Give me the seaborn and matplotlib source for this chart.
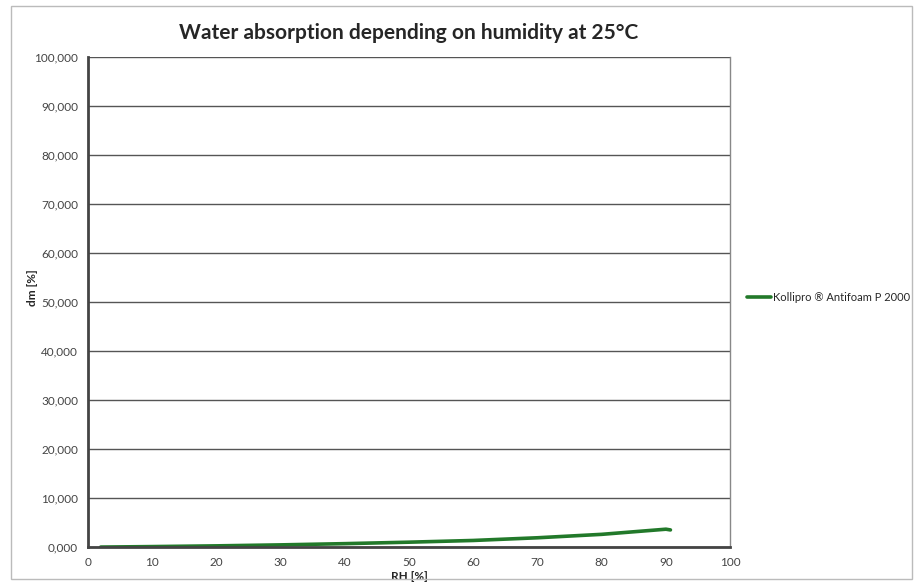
import numpy as np
import pandas as pd
import matplotlib
matplotlib.use("Agg")
import matplotlib.pyplot as plt
import seaborn as sns
from matplotlib.ticker import FuncFormatter

# Dados
rh = [2, 10, 20, 30, 40, 50, 60, 70, 80, 90, 90.7]
dm = [0.0, 0.1, 0.25, 0.45, 0.7, 1.0, 1.35, 1.9, 2.6, 3.65, 3.5]
serie = "Kollipro ® Antifoam P 2000"
x_ticks = list(range(0, 101, 10))
y_ticks = list(range(0, 100001, 10000))

df = pd.DataFrame({"RH": rh, "dm": dm, "serie": serie})

sns.set_style("white")
plt.rcParams["font.family"] = ["Lato", "DejaVu Sans"]

fig = plt.figure(figsize=(9.15, 5.82), dpi=100)
ax = fig.add_axes([0.096, 0.060, 0.702, 0.842])

sns.lineplot(data=df, x="RH", y="dm", hue="serie", palette=["#22792a"],
             linewidth=2.6, ax=ax)

ax.set_xlim(0, 100)
ax.set_ylim(0, 100)
ax.set_xticks(x_ticks)
ax.set_yticks([v / 1000 for v in y_ticks])
ax.yaxis.set_major_formatter(FuncFormatter(lambda v, p: f"{v:.3f}".replace(".", ",")))
ax.tick_params(axis="both", labelsize=8.5, colors="#444444", length=0, pad=7)
ax.grid(axis="y", color="#555555", linewidth=1)
ax.set_axisbelow(True)
for side in ["left", "bottom"]:
    ax.spines[side].set_color("#444444")
    ax.spines[side].set_linewidth(2)
ax.spines["right"].set_color("#888888")
ax.spines["right"].set_linewidth(1)
ax.spines["top"].set_visible(False)

ax.set_xlabel("RH [%]", fontsize=8.5, fontweight="bold")
ax.xaxis.set_label_coords(0.5, -0.048)
ax.set_ylabel("dm [%]", fontsize=8.5, fontweight="bold")
ax.yaxis.set_label_coords(-0.077, 0.53)
ax.set_title("Water absorption depending on humidity at 25°C",
             fontsize=15, fontweight="bold", pad=13)

ax.legend(loc="center left", bbox_to_anchor=(1.01, 0.51), frameon=False,
          fontsize=8, handlelength=2.2, handletextpad=0.2)

fig.patches.append(plt.Rectangle((0.012, 0.005), 0.985, 0.985, transform=fig.transFigure,
                                 fill=False, edgecolor="#bbbbbb", linewidth=1))

fig.savefig("out.png", dpi=100)
